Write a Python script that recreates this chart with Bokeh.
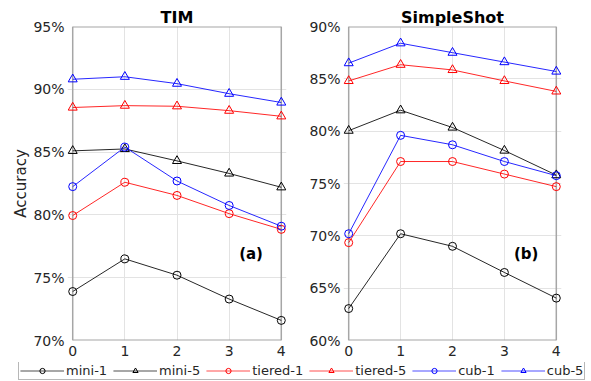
from bokeh.plotting import figure
from bokeh.models import (Range1d, FixedTicker, PrintfTickFormatter, Label,
                          Legend, LegendItem)
from bokeh.layouts import column, row
from bokeh.embed import file_html
from bokeh.resources import INLINE

# ---------------- data ----------------
steps = [0, 1, 2, 3, 4]
step_labels = ["0", "1", "2", "3", "4"]

tim_mini1 = [73.9, 76.5, 75.2, 73.3, 71.6]
tim_mini5 = [85.1, 85.25, 84.3, 83.3, 82.2]
tim_tiered1 = [79.95, 82.6, 81.55, 80.1, 78.85]
tim_tiered5 = [88.55, 88.7, 88.65, 88.3, 87.85]
tim_cub1 = [82.25, 85.4, 82.7, 80.75, 79.1]
tim_cub5 = [90.8, 91.0, 90.45, 89.65, 88.95]

ss_mini1 = [63.05, 70.2, 69.0, 66.5, 64.05]
ss_mini5 = [80.05, 82.0, 80.35, 78.15, 75.8]
ss_tiered1 = [69.35, 77.1, 77.1, 75.9, 74.7]
ss_tiered5 = [84.8, 86.35, 85.85, 84.8, 83.8]
ss_cub1 = [70.2, 79.6, 78.7, 77.1, 75.75]
ss_cub5 = [86.5, 88.4, 87.5, 86.6, 85.7]

series_names = ["mini-1", "mini-5", "tiered-1", "tiered-5", "cub-1", "cub-5"]
series_colors = ["#000000", "#000000", "#ff0000", "#ff0000", "#0000ff", "#0000ff"]
legend_line_colors = ["#8a8a8a", "#8a8a8a", "#ff8a8a", "#ff8a8a", "#8a8aff", "#8a8aff"]
series_markers = ["circle", "triangle", "circle", "triangle", "circle", "triangle"]

tim_series = [tim_mini1, tim_mini5, tim_tiered1, tim_tiered5, tim_cub1, tim_cub5]
ss_series = [ss_mini1, ss_mini5, ss_tiered1, ss_tiered5, ss_cub1, ss_cub5]

tim_yticks = [70, 75, 80, 85, 90, 95]
ss_yticks = [60, 65, 70, 75, 80, 85, 90]

FONT = "DejaVu Sans"
AX_GRAY = "#a6a6a6"
TXT = "#262626"


def make_panel(title, yticks, series, tag, tag_pos, width, bl, br, ylabel=None):
    ylo, yhi = yticks[0], yticks[-1]
    p = figure(width=width, height=362, x_range=Range1d(-0.1, 4.1),
               y_range=Range1d(ylo, yhi), output_backend="svg",
               toolbar_location=None, min_border_left=bl, min_border_right=br,
               min_border_top=26, min_border_bottom=22)
    p.outline_line_color = None
    p.background_fill_color = "white"
    p.border_fill_color = "white"

    p.title.text = title
    p.title.align = "center"
    p.title.text_font = FONT
    p.title.text_font_size = "16px"
    p.title.text_font_style = "bold"
    p.title.text_color = "#000000"
    p.title.standoff = 0

    p.xaxis.ticker = FixedTicker(ticks=steps)
    p.xaxis.major_label_overrides = {s: l for s, l in zip(steps, step_labels)}
    p.yaxis.ticker = FixedTicker(ticks=yticks)
    p.yaxis.formatter = PrintfTickFormatter(format="%d%%")
    for ax in (p.xaxis[0], p.yaxis[0]):
        ax.axis_line_color = None
        ax.major_tick_out = 0
        ax.major_tick_in = 0
        ax.minor_tick_out = 0
        ax.minor_tick_in = 0
        ax.major_tick_line_color = None
        ax.minor_tick_line_color = None
        ax.major_label_text_font = FONT
        ax.major_label_text_font_size = "14px"
        ax.major_label_text_color = TXT
    p.yaxis.major_label_standoff = 3
    p.xaxis.major_label_standoff = 5
    if ylabel:
        p.yaxis.axis_label = ylabel
        p.yaxis.axis_label_text_font = FONT
        p.yaxis.axis_label_text_font_size = "15px"
        p.yaxis.axis_label_text_font_style = "normal"
        p.yaxis.axis_label_text_color = TXT
        p.yaxis.axis_label_standoff = 0

    p.xgrid.ticker = FixedTicker(ticks=steps)
    p.ygrid.ticker = FixedTicker(ticks=yticks)
    p.grid.grid_line_color = "#e3e3e3"
    p.grid.grid_line_width = 1

    # axes box
    p.segment(x0=[steps[0], steps[-1]], y0=[ylo, ylo], x1=[steps[0], steps[-1]],
              y1=[yhi, yhi], line_color=AX_GRAY, line_width=1.5)
    p.segment(x0=[steps[0], steps[0]], y0=[ylo, yhi], x1=[steps[-1], steps[-1]],
              y1=[ylo, yhi], line_color=AX_GRAY, line_width=2)

    for vals, color, marker in zip(series, series_colors, series_markers):
        p.line(steps, vals, line_color=color, line_width=1, line_alpha=0.85)
        p.scatter(steps, vals, marker=marker, size=9 if marker == "triangle" else 8,
                  line_color=color, fill_color=None, line_width=1)

    p.add_layout(Label(x=tag_pos[0], y=tag_pos[1], text=tag, text_align="center",
                       text_baseline="middle", text_font=FONT,
                       text_font_size="15px", text_font_style="bold",
                       text_color="#000000"))
    return p


p1 = make_panel("TIM", tim_yticks, tim_series, "(a)", (3.42, 76.9), 306, 67, 20,
                ylabel="Accuracy")
p2 = make_panel("SimpleShot", ss_yticks, ss_series, "(b)", (3.42, 68.3), 285, 36, 30)

# legend strip (proxy glyphs sit underneath the opaque legend box)
lf = figure(width=591, height=19, x_range=Range1d(0, 1), y_range=Range1d(0, 1),
            output_backend="svg", toolbar_location=None, min_border=0,
            x_axis_location=None, y_axis_location=None)
lf.outline_line_color = None
lf.grid.visible = False
lf.border_fill_color = "white"
lf.background_fill_color = "white"
items = []
for name, color, lcolor, marker in zip(series_names, series_colors,
                                       legend_line_colors, series_markers):
    sg = lf.segment(x0=[0.5], y0=[0.5], x1=[0.5001], y1=[0.5],
                    line_color=lcolor, line_width=1.2)
    lr = lf.line([0.5, 0.5001], [0.5, 0.5], line_color=lcolor, line_width=1.2)
    sr = lf.scatter([0.5], [0.5], marker=marker, size=7, line_color=color,
                    fill_color=None, line_width=1)
    items.append(LegendItem(label=name, renderers=[sg, lr, sr]))
leg = Legend(items=items, orientation="horizontal", location=(18, 1), margin=0,
             padding=1, spacing=6, label_standoff=2, glyph_width=44,
             glyph_height=13, label_height=13, label_text_font=FONT,
             label_text_font_size="13px", label_text_color=TXT,
             border_line_color="#707070", border_line_width=1,
             background_fill_color="white", background_fill_alpha=1)
lf.add_layout(leg)

layout = column(row(p1, p2), lf)
open("out.html", "w").write(file_html(layout, INLINE))
